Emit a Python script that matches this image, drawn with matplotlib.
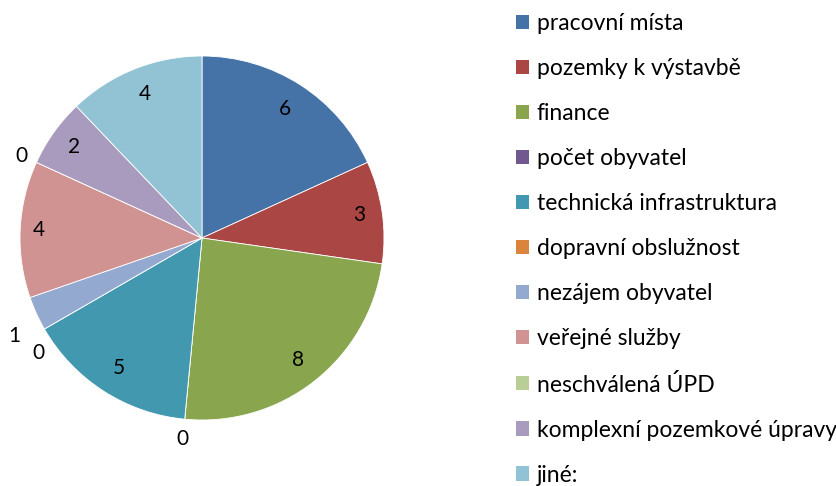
import numpy as np
import matplotlib
matplotlib.use('Agg')
import matplotlib.pyplot as plt
import matplotlib.patches as mpatches

plt.rcParams['font.family'] = ['Lato', 'DejaVu Sans']

categories = ['pracovní místa', 'pozemky k výstavbě', 'finance', 'počet obyvatel',
              'technická infrastruktura', 'dopravní obslužnost', 'nezájem obyvatel',
              'veřejné služby', 'neschválená ÚPD', 'komplexní pozemkové úpravy', 'jiné:']
values = [6, 3, 8, 0, 5, 0, 1, 4, 0, 2, 4]
colors = ['#4673A7', '#AA4643', '#89A54E', '#71588F', '#4198AF', '#DB843D',
          '#93A9CF', '#D19392', '#B9CD96', '#A99BBD', '#92C3D5']

# label placement: (radius, angle nudge in degrees)
label_pos = [(0.84, 0), (0.87, 0), (0.85, 0), (1.11, 0), (0.85, 0), (1.10, 5),
             (1.16, 3), (0.90, 0), (1.09, 0), (0.86, 0), (0.85, 0)]

W, H = 837, 486
fig = plt.figure(figsize=(W / 100, H / 100), dpi=100)

# pie box in pixels: center (202, 238), radius 182
cx, cy, r = 202, 238, 182
ax = fig.add_axes([(cx - r) / W, (H - cy - r) / H, 2 * r / W, 2 * r / H])

wedges, _ = ax.pie(values, colors=colors, startangle=90, counterclock=False,
                   radius=1, wedgeprops=dict(edgecolor='white', linewidth=0.6))
ax.set_xlim(-1, 1)
ax.set_ylim(-1, 1)
ax.set_aspect('equal')
ax.axis('off')

for w, v, (rad, dth) in zip(wedges, values, label_pos):
    ang = np.deg2rad((w.theta1 + w.theta2) / 2 + dth)
    ax.text(rad * np.cos(ang), rad * np.sin(ang), str(v), ha='center', va='center',
            fontsize=15, color='black', clip_on=False)

handles = [mpatches.Patch(facecolor=c, edgecolor='none', label=n)
           for c, n in zip(colors, categories)]
fig.legend(handles=handles, loc='upper left', bbox_to_anchor=(516 / W, 1 - 13 / H),
           frameon=False, fontsize=16.5, labelspacing=1.05, handlelength=0.57,
           handleheight=0.57, handletextpad=0.33, borderaxespad=0, borderpad=0)

fig.savefig('out.png', dpi=100)
